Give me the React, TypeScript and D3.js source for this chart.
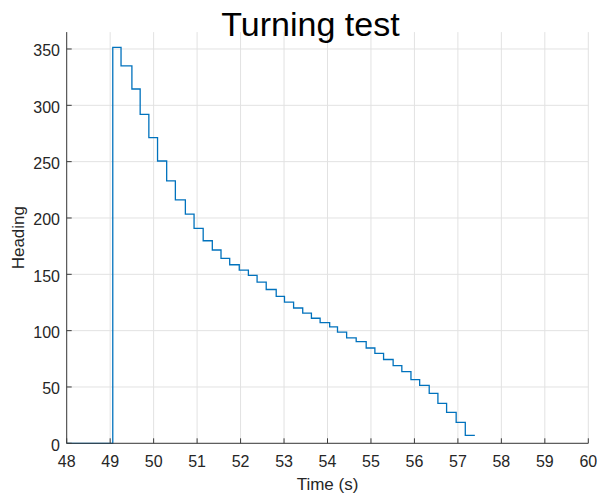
import React from 'react';
import * as d3 from 'd3';

// step start times (s) and heading held from each one
const stepTimes = [48, 49.06, 49.25, 49.5, 49.69, 49.89, 50.09, 50.3, 50.5, 50.73, 50.93, 51.14, 51.35, 51.55, 51.75, 51.97, 52.18, 52.38, 52.59, 52.82, 53.01, 53.22, 53.43, 53.63, 53.83, 54.05, 54.23, 54.44, 54.66, 54.89, 55.09, 55.29, 55.51, 55.71, 55.92, 56.12, 56.34, 56.54, 56.74, 56.96, 57.17, 57.39];
const headings = [0, 351.5, 335, 314.5, 292, 271.3, 250.6, 233, 216, 203.5, 190.8, 179.8, 171.6, 164.2, 158.5, 153.8, 149, 143, 136.5, 130.5, 125.3, 120.1, 115.5, 111, 107.2, 103.3, 98.7, 93.5, 90.2, 84.6, 79.9, 74.4, 68.9, 63.6, 56.5, 51.4, 44.4, 35.5, 27.4, 18.5, 7, 7];

const xTicks = [48, 49, 50, 51, 52, 53, 54, 55, 56, 57, 58, 59, 60];
const yTicks = [0, 50, 100, 150, 200, 250, 300, 350];

const W = 597;
const H = 496;
const FONT = '"Liberation Sans", Arial, Helvetica, sans-serif';

const App = () => {
  const left = 66.7, right = 588.3, top = 32.1, bottom = 443.3;

  const x = d3.scaleLinear().domain([48, 60]).range([left, right]);
  const y = d3.scaleLinear().domain([0, 365]).range([bottom, top]);

  const pts: [number, number][] = stepTimes.map((t, i) => [t, headings[i]]);
  const line = d3.line<[number, number]>()
    .x(d => x(d[0]))
    .y(d => y(d[1]))
    .curve(d3.curveStepAfter);

  const axisColor = '#3c3c3c';
  const gridColor = '#e2e2e2';
  const textColor = '#262626';

  return (
    <svg width={W} height={H} style={{ position: 'absolute', left: 0, top: 0, background: '#fff' }}>
      {/* grid */}
      <g>
        {xTicks.map(t => (
          <line key={'gx' + t} x1={x(t)} x2={x(t)} y1={top} y2={bottom} stroke={gridColor} strokeWidth={1} />
        ))}
        {yTicks.map(t => (
          <line key={'gy' + t} x1={left} x2={right} y1={y(t)} y2={y(t)} stroke={gridColor} strokeWidth={1} />
        ))}
      </g>

      {/* data */}
      <path d={line(pts) || ''} fill="none" stroke="#0072BD" strokeWidth={1.3} />

      {/* axes */}
      <line x1={left} x2={left} y1={top} y2={bottom} stroke={axisColor} strokeWidth={1} />
      <line x1={left} x2={right} y1={bottom} y2={bottom} stroke={axisColor} strokeWidth={1} />
      {xTicks.map(t => (
        <g key={'tx' + t}>
          <line x1={x(t)} x2={x(t)} y1={bottom} y2={bottom - 5} stroke={axisColor} strokeWidth={1} />
          <text x={x(t)} y={467} textAnchor="middle" fontFamily={FONT} fontSize={16} fill={textColor}>{t}</text>
        </g>
      ))}
      {yTicks.map(t => (
        <g key={'ty' + t}>
          <line x1={left} x2={left + 5} y1={y(t)} y2={y(t)} stroke={axisColor} strokeWidth={1} />
          <text x={60} y={y(t) + 7.5} textAnchor="end" fontFamily={FONT} fontSize={16} fill={textColor}>{t}</text>
        </g>
      ))}

      {/* labels */}
      <text x={(left + right) / 2} y={490} textAnchor="middle" fontFamily={FONT} fontSize={17} fill={textColor}>Time (s)</text>
      <text transform={`translate(24,${(top + bottom) / 2}) rotate(-90)`} textAnchor="middle" fontFamily={FONT} fontSize={17} fill={textColor}>Heading</text>
      <text x={310.5} y={36} textAnchor="middle" fontFamily={FONT} fontSize={34} fill="#000">Turning test</text>
    </svg>
  );
};

export default App;
